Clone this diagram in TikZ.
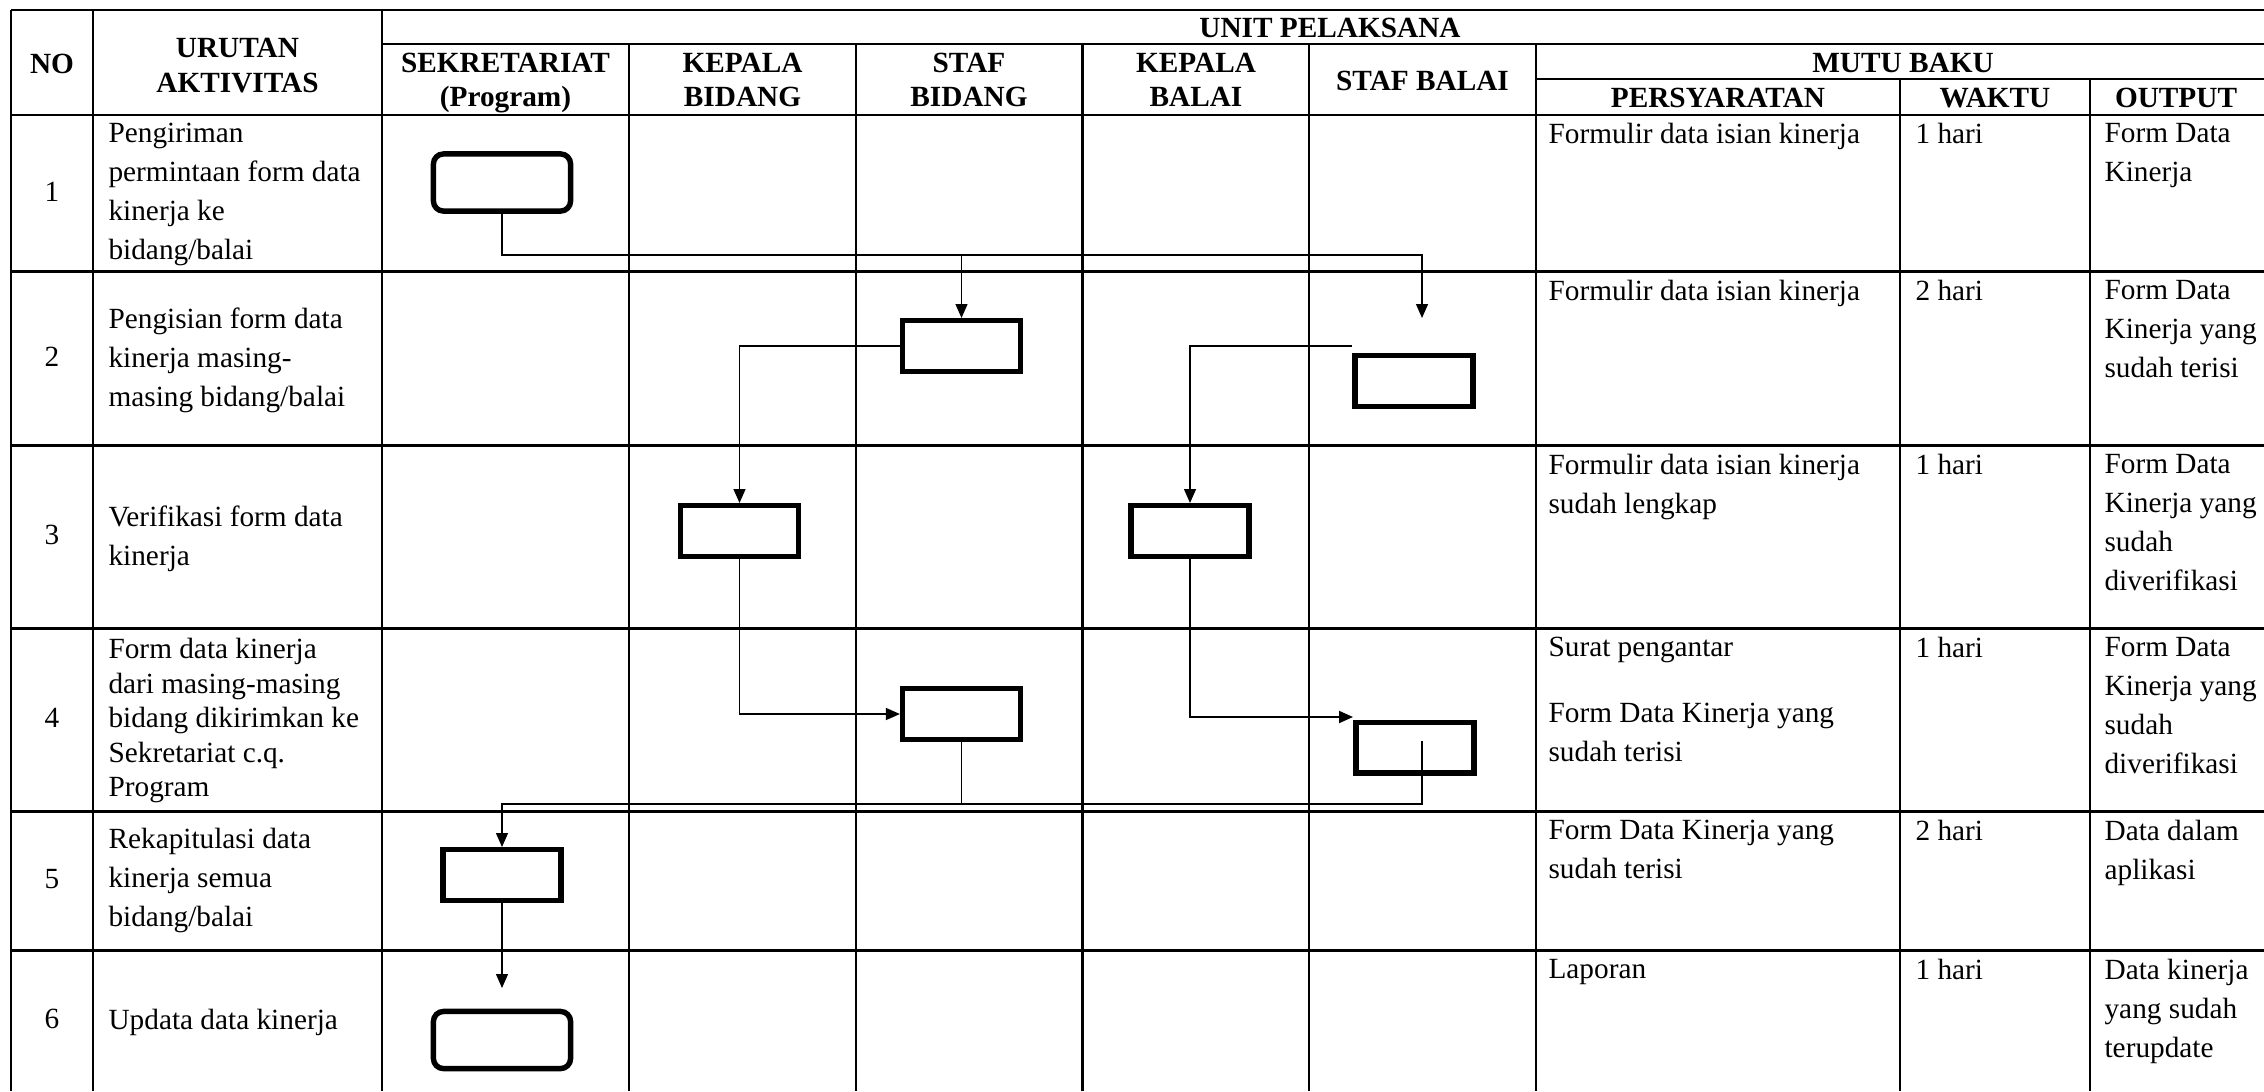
\documentclass[tikz,border=0pt]{standalone}
\usepackage{fontspec}
\setmainfont{Liberation Serif}
\usetikzlibrary{arrows.meta}
\newcommand{\isi}{\fontsize{10.25pt}{13.65pt}\selectfont}
\newcommand{\rapat}{\fontsize{10.25pt}{12.08pt}\selectfont}
\newcommand{\judul}{\fontsize{10.25pt}{12pt}\selectfont\bfseries}
\tikzset{
	garis/.style={line width=0.8pt},
	alur/.style={line width=0.45pt},
	panah/.style={alur,-{Triangle[length=4.9pt,width=4.2pt]}},
	kotak/.style={draw,line width=1.9pt,minimum width=41.2pt,minimum height=17.7pt,inner sep=0pt},
	mulai/.style={kotak,rounded corners=3.5pt,minimum width=48pt,minimum height=20pt},
	judul/.style={anchor=north,align=center,inner sep=0pt,font=\judul,execute at begin node=\strut},
	nomor/.style={anchor=center,inner sep=0pt,font=\isi,execute at begin node=\strut},
	urutan/.style={anchor=north west,align=left,inner sep=0pt,font=\isi},
	isian/.style={anchor=north west,align=left,inner sep=0pt,font=\isi}
}
\begin{document}
\begin{tikzpicture}[x=0.35pt,y=0.35pt,yscale=-1]
	\useasboundingbox (0,0) rectangle (2264,1091);
	\draw[garis] (11,10) -- (2264,10);
	\draw[garis] (382,44) -- (2264,44);
	\draw[garis] (1536,79) -- (2264,79);
	\draw[garis] (11,115) -- (2264,115);
	\draw[garis] (11,271.5) -- (2264,271.5);
	\draw[garis] (11,445.5) -- (2264,445.5);
	\draw[garis] (11,628.5) -- (2264,628.5);
	\draw[garis] (11,811.5) -- (2264,811.5);
	\draw[garis] (11,950.5) -- (2264,950.5);
	\draw[garis] (11,10) -- (11,1091);
	\draw[garis] (93,10) -- (93,1091);
	\draw[garis] (382,10) -- (382,1091);
	\draw[garis] (629,44) -- (629,1091);
	\draw[garis] (856,44) -- (856,1091);
	\draw[garis] (1082.5,44) -- (1082.5,1091);
	\draw[garis] (1309,44) -- (1309,1091);
	\draw[garis] (1536,44) -- (1536,1091);
	\draw[garis] (1900,79) -- (1900,1091);
	\draw[garis] (2090,79) -- (2090,1091);

	\node[judul] (hno) at (52,49.3) {NO};
	\node[judul] (hurutan) at (237.5,38) {URUTAN\\AKTIVITAS};
	\node[judul] (hunit) at (1330,13.3) {UNIT PELAKSANA};
	\node[judul] (hsekre) at (505.5,52.5) {SEKRETARIAT\\(Program)};
	\node[judul] (hkabid) at (742.5,52.5) {KEPALA\\BIDANG};
	\node[judul] (hstabid) at (969,52.5) {STAF\\BIDANG};
	\node[judul] (hkabal) at (1196,52.5) {KEPALA\\BALAI};
	\node[judul] (hstabal) at (1422.5,66.3) {STAF BALAI};
	\node[judul] (hmutu) at (1903,47.7) {MUTU BAKU};
	\node[judul] (hsyarat) at (1718,82.9) {PERSYARATAN};
	\node[judul] (hwaktu) at (1995,82.9) {WAKTU};
	\node[judul] (houtput) at (2176,82.9) {OUTPUT};

	\node[nomor] (n1) at (52,193.3) {1};
	\node[nomor] (n2) at (52,358.5) {2};
	\node[nomor] (n3) at (52,537) {3};
	\node[nomor] (n4) at (52,720) {4};
	\node[nomor] (n5) at (52,881) {5};
	\node[nomor] (n6) at (52,1020.8) {6};
	\node[urutan] (u1) at (108,122.6) {Pengiriman\\permintaan form data\\kinerja ke\\bidang/balai};
	\node[urutan] (u2) at (108,307.3) {Pengisian form data\\kinerja masing-\\masing bidang/balai};
	\node[urutan] (u3) at (108,505.3) {Verifikasi form data\\kinerja};
	\node[urutan,font=\rapat] (u4) at (108,637.9) {Form data kinerja\\dari masing-masing\\bidang dikirimkan ke\\Sekretariat c.q.\\Program};
	\node[urutan] (u5) at (108,828) {Rekapitulasi data\\kinerja semua\\bidang/balai};
	\node[urutan] (u6) at (108,1008.6) {Updata data kinerja};

	\node[isian] (p1) at (1548,123) {Formulir data isian kinerja};
	\node[isian] (w1) at (1915,123) {1 hari};
	\node[isian] (o1) at (2104,123) {Form Data\\Kinerja};
	\node[isian] (p2) at (1548,279.5) {Formulir data isian kinerja};
	\node[isian] (w2) at (1915,279.5) {2 hari};
	\node[isian] (o2) at (2104,279.5) {Form Data\\Kinerja yang\\sudah terisi};
	\node[isian] (p3) at (1548,453.5) {Formulir data isian kinerja\\sudah lengkap};
	\node[isian] (w3) at (1915,453.5) {1 hari};
	\node[isian] (o3) at (2104,453.5) {Form Data\\Kinerja yang\\sudah\\diverifikasi};
	\node[isian] (p4) at (1548,636.5) {Surat pengantar\\[9.3pt]Form Data Kinerja yang\\sudah terisi};
	\node[isian] (w4) at (1915,636.5) {1 hari};
	\node[isian] (o4) at (2104,636.5) {Form Data\\Kinerja yang\\sudah\\diverifikasi};
	\node[isian] (p5) at (1548,819.5) {Form Data Kinerja yang\\sudah terisi};
	\node[isian] (w5) at (1915,819.5) {2 hari};
	\node[isian] (o5) at (2104,819.5) {Data dalam\\aplikasi};
	\node[isian] (p6) at (1548,958.5) {Laporan};
	\node[isian] (w6) at (1915,958.5) {1 hari};
	\node[isian] (o6) at (2104,958.5) {Data kinerja\\yang sudah\\terupdate};

	\node[mulai] (b1) at (502,182.5) {};
	\node[kotak] (b2a) at (961.5,346) {};
	\node[kotak] (b2b) at (1414,381) {};
	\node[kotak] (b3a) at (739.5,531) {};
	\node[kotak] (b3b) at (1190,531) {};
	\node[kotak] (b4a) at (961.5,714) {};
	\node[kotak] (b4b) at (1415,747.5) {};
	\node[kotak] (b5) at (502,875) {};
	\node[mulai] (b6) at (502,1040) {};

	\coordinate (bus1) at (1422,255);
	\coordinate (t2b) at (1422,318);
	\coordinate (s2b) at (1352,346);
	\coordinate (t4b) at (1353,717);
	\coordinate (s4b) at (1422,741);
	\coordinate (bus5) at (502,804);
	\coordinate (t6) at (502,988);
	\draw[panah] (b1.south) |- (bus1) -- (t2b);
	\draw[panah] (b2a.north |- bus1) -- (b2a.north);
	\draw[panah] (b2a.west) -| (b3a.north);
	\draw[panah] (s2b) -| (b3b.north);
	\draw[panah] (b3a.south) |- (b4a.west);
	\draw[panah,line width=0.7pt] (b3b.south) |- (t4b);
	\draw[panah] (s4b) |- (bus5) -- (b5.north);
	\draw[alur] (b4a.south) -- (b4a.south |- bus5);
	\draw[panah] (b5.south) -- (t6);
\end{tikzpicture}
\end{document}
